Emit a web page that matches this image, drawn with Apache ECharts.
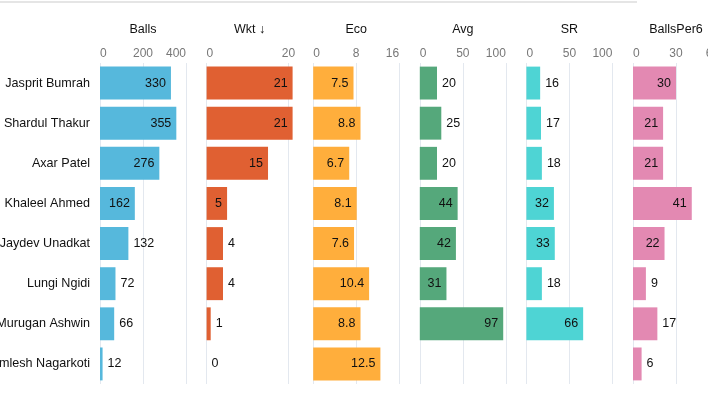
<!DOCTYPE html>
<html>
<head>
<meta charset="utf-8">
<script src="https://cdn.jsdelivr.net/npm/echarts@6/dist/echarts.min.js"></script>
<style>
  html, body { margin: 0; padding: 0; background: #fff; }
  #chart { width: 708px; height: 398px; }
</style>
</head>
<body>
<div id="chart"></div>
<script>
// bowlers, top to bottom
const names = ['Jasprit Bumrah', 'Shardul Thakur', 'Axar Patel', 'Khaleel Ahmed',
  'Jaydev Unadkat', 'Lungi Ngidi', 'Murugan Ashwin', 'Kamlesh Nagarkoti'];

const balls = [330, 355, 276, 162, 132, 72, 66, 12];
const wkt = [21, 21, 15, 5, 4, 4, 1, 0];
const eco = [7.5, 8.8, 6.7, 8.1, 7.6, 10.4, 8.8, 12.5];
const avg = [20, 25, 20, 44, 42, 31, 97, null];
const sr = [16, 17, 18, 32, 33, 18, 66, null];
const ballsPer6 = [30, 21, 21, 41, 22, 9, 17, 6];

// column headers + axis ranges
const titles = ['Balls', 'Wkt \u2193', 'Eco', 'Avg', 'SR', 'BallsPer6'];
const axisMax = [400, 21, 16, 100, 100, 60];
const axisStep = [200, 20, 8, 50, 50, 30];

const columns = [balls, wkt, eco, avg, sr, ballsPer6];
const colors = ['#56b8dc', '#e06032', '#ffae3c', '#55a87b', '#4ed4d4', '#e389b2'];

const FONT = '"Liberation Sans", Arial, sans-serif';
const panelW = 86;

// put the number inside the bar only if it fits
const ctx = document.createElement('canvas').getContext('2d');
ctx.font = '12px ' + FONT;
function labelPos(v, max) {
  const len = v / max * panelW;
  const tw = ctx.measureText(String(v)).width;
  return len >= tw + 12 ? 'insideRight' : 'right';
}

let myChart = echarts.init(document.getElementById('chart'));

let grids = [], xAxes = [], yAxes = [], series = [];
columns.forEach(function (col, i) {
  grids.push({
    left: 100 + i * 106.6, width: panelW, top: 63, bottom: 14,
    containLabel: false, outerBoundsMode: 'none'
  });
  xAxes.push({
    gridIndex: i,
    type: 'value',
    position: 'top',
    min: 0,
    max: axisMax[i],
    interval: axisStep[i],
    name: titles[i],
    nameLocation: 'middle',
    nameGap: 27,
    nameTextStyle: { color: '#111', fontSize: 12.5, fontFamily: FONT },
    axisLine: { show: false },
    axisTick: { show: false },
    axisLabel: {
      color: '#777', fontSize: 12, fontFamily: FONT, margin: 3,
      alignMinLabel: 'left', alignMaxLabel: 'right',
      showMaxLabel: i !== 1
    },
    splitLine: { show: true, showMaxLine: i !== 1, lineStyle: { color: '#e3e8ef', width: 1 } }
  });
  yAxes.push({
    gridIndex: i,
    type: 'category',
    inverse: true,
    data: names,
    axisLine: { show: false },
    axisTick: { show: false },
    axisLabel: {
      show: i === 0, color: '#111', fontSize: 12.6, fontFamily: FONT, margin: 10
    }
  });
  series.push({
    type: 'bar',
    xAxisIndex: i,
    yAxisIndex: i,
    barCategoryGap: '18%',
    itemStyle: { color: colors[i] },
    label: { show: true, color: '#111', fontSize: 12.5, fontFamily: FONT, distance: 5 },
    data: col.map(function (v) {
      if (v === null) return { value: null, label: { show: false } };
      return { value: v, label: { position: labelPos(v, axisMax[i]) } };
    })
  });
});

let option = {
  animation: false,
  grid: grids,
  xAxis: xAxes,
  yAxis: yAxes,
  series: series,
  graphic: [{
    type: 'line',
    shape: { x1: 0, y1: 2, x2: 637, y2: 2 },
    style: { stroke: '#dddddd', lineWidth: 1.5 }
  }]
};
myChart.setOption(option);
</script>
</body>
</html>
